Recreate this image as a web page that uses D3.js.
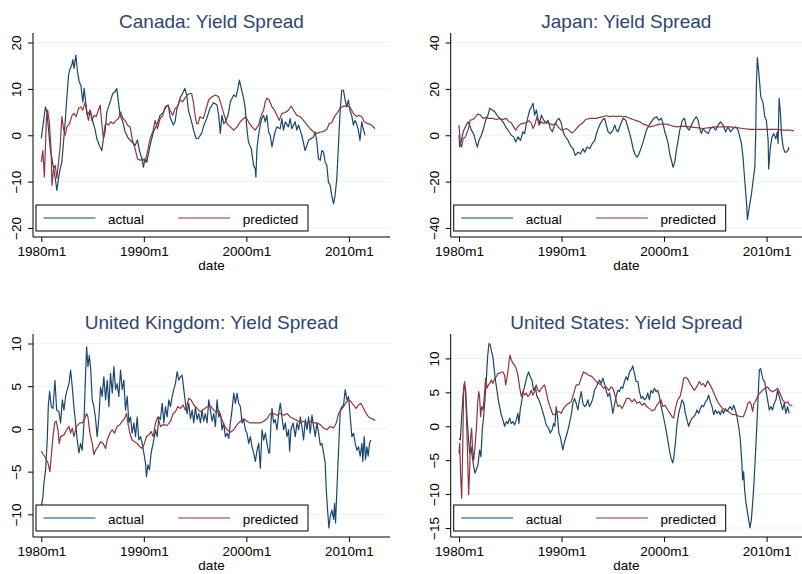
<!DOCTYPE html>
<html lang="en">
<head>
<meta charset="UTF-8">
<title>Yield Spread: actual vs predicted</title>
<script src="https://d3js.org/d3.v7.min.js"></script>
<style>
  body { margin: 0; background: #fff; }
  svg { font-family: "Liberation Sans", Arial, Helvetica, sans-serif; }
  .grid line { stroke: #eaf2f3; stroke-width: 1; }
  .axis-line { stroke: #000; stroke-width: 1; }
  .tick line { stroke: #000; }
  .tick text { font-size: 13.5px; fill: #000; }
  .title { font-size: 19px; fill: #2c4672; }
  .xlabel { font-size: 13.5px; fill: #000; }
  .legend-text { font-size: 13.5px; fill: #000; }
</style>
</head>
<body>
<svg id="chart" width="802" height="574"></svg>
<script>
// values, [fractional year, value]
const xTicks = [1980, 1990, 2000, 2010];
const seriesNames = ["actual", "predicted"];

const caActual = [[1980.0,-0.7],[1980.4,6.1],[1980.55,5.0],[1980.87,-2.9],[1981.2,-7.2],[1981.36,-9.3],[1981.52,-11.9],[1981.68,-9.3],[1981.85,-7.2],[1982.0,-5.8],[1982.17,-1.4],[1982.33,2.9],[1982.5,8.3],[1982.66,13.0],[1982.82,14.4],[1982.98,15.2],[1983.08,16.3],[1983.2,14.4],[1983.37,17.3],[1983.53,13.7],[1983.7,11.5],[1983.86,10.8],[1984.05,7.2],[1984.18,10.1],[1984.38,6.1],[1984.5,4.3],[1984.77,5.4],[1985.03,2.9],[1985.26,1.1],[1985.41,-0.7],[1985.67,-2.2],[1985.9,-3.3],[1986.06,-0.7],[1986.22,0.7],[1986.39,5.0],[1986.71,7.2],[1986.97,9.0],[1987.2,9.4],[1987.36,10.1],[1987.52,7.2],[1987.69,4.3],[1987.95,2.9],[1988.18,0.7],[1988.5,-0.7],[1988.83,-1.4],[1989.15,-2.2],[1989.38,-1.0],[1989.57,-3.3],[1989.8,-5.0],[1989.96,-6.9],[1990.12,-5.0],[1990.29,-5.8],[1990.61,-2.2],[1990.93,0.7],[1991.26,2.2],[1991.59,4.3],[1991.91,5.0],[1992.17,6.1],[1992.4,6.5],[1992.56,3.9],[1992.88,2.2],[1993.05,2.9],[1993.2,5.4],[1993.53,8.0],[1993.86,9.4],[1994.0,10.1],[1994.18,8.7],[1994.35,5.4],[1994.66,2.9],[1994.9,0.7],[1995.1,-0.7],[1995.3,-0.7],[1995.63,0.4],[1995.86,2.2],[1996.12,3.5],[1996.45,5.8],[1996.8,7.0],[1997.14,6.5],[1997.3,4.3],[1997.46,0.4],[1997.62,4.3],[1997.79,2.5],[1997.95,2.9],[1998.21,4.3],[1998.44,7.2],[1998.76,8.7],[1998.99,8.3],[1999.18,10.1],[1999.32,11.9],[1999.5,10.1],[1999.73,8.0],[1999.89,5.8],[2000.05,1.4],[2000.2,-1.4],[2000.48,-2.9],[2000.7,-6.5],[2000.86,-7.2],[2000.93,-9.0],[2001.03,-2.9],[2001.19,0.0],[2001.35,2.2],[2001.5,3.6],[2001.68,4.3],[2001.84,2.9],[2002.0,4.3],[2002.17,0.7],[2002.33,0.0],[2002.5,-2.5],[2002.65,-0.7],[2002.8,0.7],[2002.98,1.8],[2003.3,1.4],[2003.46,3.6],[2003.62,1.1],[2003.8,2.9],[2004.1,1.8],[2004.27,3.6],[2004.43,1.4],[2004.76,2.9],[2004.92,1.1],[2005.08,2.2],[2005.41,0.0],[2005.73,-3.3],[2005.9,-2.2],[2006.06,-1.1],[2006.32,-0.7],[2006.55,-0.4],[2006.71,0.7],[2006.87,-1.4],[2007.03,-5.1],[2007.2,-5.4],[2007.36,-3.3],[2007.52,-3.6],[2007.69,-5.8],[2007.85,-6.5],[2008.0,-10.1],[2008.17,-10.8],[2008.33,-13.0],[2008.5,-14.8],[2008.65,-13.0],[2008.82,-9.4],[2008.98,-2.2],[2009.14,5.0],[2009.3,9.7],[2009.47,9.7],[2009.63,7.6],[2009.79,6.1],[2009.95,7.6],[2010.1,5.4],[2010.27,4.3],[2010.44,2.2],[2010.6,3.2],[2010.75,2.5],[2010.92,1.1],[2011.08,-1.1],[2011.25,2.9],[2011.4,1.4],[2011.57,0.0]];

const caPredicted = [[1980.0,-5.8],[1980.15,-3.3],[1980.3,-9.0],[1980.5,3.6],[1980.62,5.4],[1980.78,2.9],[1980.95,-2.9],[1981.04,-10.8],[1981.2,-7.2],[1981.36,-6.5],[1981.52,-9.3],[1981.68,-5.8],[1981.85,-2.2],[1982.0,4.0],[1982.17,1.4],[1982.33,0.0],[1982.5,1.8],[1982.76,2.5],[1983.0,4.3],[1983.2,4.7],[1983.4,4.0],[1983.63,5.8],[1983.86,6.1],[1984.05,5.4],[1984.28,7.2],[1984.44,4.7],[1984.6,3.2],[1984.77,5.4],[1984.93,3.2],[1985.16,4.3],[1985.35,4.0],[1985.57,5.4],[1985.74,6.5],[1985.9,2.5],[1986.06,-0.7],[1986.22,2.2],[1986.39,2.5],[1986.55,2.2],[1986.78,2.9],[1987.04,2.5],[1987.3,3.2],[1987.52,3.6],[1987.75,5.0],[1987.95,3.6],[1988.18,3.2],[1988.4,2.2],[1988.66,1.8],[1988.92,-1.4],[1989.15,-2.9],[1989.38,-5.1],[1989.64,-5.4],[1989.9,-5.1],[1990.12,-5.8],[1990.35,-3.6],[1990.61,-0.7],[1990.87,0.7],[1991.1,3.2],[1991.33,1.4],[1991.59,3.6],[1991.85,4.3],[1992.07,6.1],[1992.3,6.5],[1992.56,5.4],[1992.82,4.3],[1993.05,5.8],[1993.27,6.1],[1993.53,7.6],[1993.79,7.2],[1994.0,8.0],[1994.25,8.7],[1994.44,9.0],[1994.66,9.0],[1994.83,7.2],[1995.0,4.3],[1995.15,2.5],[1995.3,2.5],[1995.47,4.0],[1995.8,3.6],[1996.05,5.5],[1996.32,7.6],[1996.65,8.3],[1996.97,8.7],[1997.3,8.3],[1997.46,7.2],[1997.79,4.7],[1998.1,2.5],[1998.44,1.8],[1998.76,1.1],[1999.1,1.8],[1999.4,2.9],[1999.73,3.6],[1999.95,4.0],[2000.2,2.9],[2000.54,1.8],[2000.86,1.1],[2001.19,2.2],[2001.45,4.3],[2001.68,5.4],[2001.84,7.2],[2002.0,8.0],[2002.23,7.6],[2002.5,6.1],[2002.75,5.4],[2002.98,4.3],[2003.2,3.2],[2003.46,4.7],[2003.8,4.9],[2004.1,5.4],[2004.37,6.3],[2004.6,5.4],[2004.92,4.3],[2005.25,4.0],[2005.57,3.2],[2005.9,2.3],[2006.23,1.4],[2006.55,0.7],[2006.87,0.4],[2007.2,0.7],[2007.52,0.8],[2007.85,1.3],[2008.08,2.5],[2008.33,2.7],[2008.59,4.0],[2008.82,4.7],[2009.14,5.8],[2009.47,6.3],[2009.79,6.3],[2010.1,6.1],[2010.44,4.7],[2010.75,4.0],[2010.98,4.3],[2011.25,4.0],[2011.5,2.9],[2011.83,2.5],[2012.15,2.3],[2012.55,1.4]];

const jpActual = [[1980.0,0.0],[1980.07,-5.0],[1980.23,-2.2],[1980.4,1.5],[1980.55,2.9],[1980.7,4.4],[1980.88,5.8],[1981.04,4.4],[1981.2,2.2],[1981.43,0.7],[1981.63,-2.9],[1981.79,-5.1],[1981.95,-2.2],[1982.18,0.0],[1982.4,2.9],[1982.6,6.5],[1982.83,8.7],[1983.0,11.6],[1983.25,10.9],[1983.48,10.2],[1983.7,8.7],[1983.97,7.3],[1984.3,5.8],[1984.55,3.6],[1984.88,1.5],[1985.1,0.0],[1985.33,-0.7],[1985.53,-2.9],[1985.76,-0.7],[1986.0,-2.2],[1986.24,1.5],[1986.4,0.7],[1986.57,5.1],[1986.73,8.0],[1986.9,10.9],[1987.09,12.4],[1987.22,13.8],[1987.38,8.7],[1987.55,10.9],[1987.7,7.3],[1987.87,5.1],[1988.03,8.7],[1988.26,6.5],[1988.52,5.1],[1988.68,6.5],[1988.9,2.9],[1989.1,1.5],[1989.33,4.4],[1989.56,6.5],[1989.76,7.3],[1989.98,5.1],[1990.15,1.5],[1990.3,0.0],[1990.63,-2.2],[1990.86,-4.4],[1991.12,-5.8],[1991.35,-8.7],[1991.6,-7.3],[1991.84,-8.0],[1992.1,-5.8],[1992.26,-7.3],[1992.49,-5.1],[1992.75,-5.8],[1993.0,-3.6],[1993.24,-2.2],[1993.46,1.5],[1993.72,4.4],[1993.98,6.5],[1994.2,7.3],[1994.37,4.4],[1994.54,1.5],[1994.76,0.7],[1995.02,2.2],[1995.19,4.4],[1995.35,2.2],[1995.5,1.5],[1995.74,4.4],[1996.0,7.3],[1996.26,6.5],[1996.5,2.9],[1996.65,0.7],[1996.81,-2.2],[1996.98,-5.8],[1997.14,-8.0],[1997.37,-9.5],[1997.56,-8.0],[1997.79,-5.1],[1998.0,-2.2],[1998.28,2.2],[1998.54,4.4],[1998.76,5.8],[1999.0,7.3],[1999.25,8.0],[1999.5,6.5],[1999.74,7.3],[1999.9,5.1],[2000.07,1.5],[2000.23,-0.7],[2000.4,-3.6],[2000.55,-8.0],[2000.72,-10.9],[2000.88,-13.8],[2001.04,-11.6],[2001.2,-6.5],[2001.37,-2.2],[2001.53,2.2],[2001.79,6.5],[2002.0,7.3],[2002.18,3.6],[2002.44,2.2],[2002.67,4.4],[2002.9,6.5],[2003.15,8.0],[2003.32,6.5],[2003.48,2.9],[2003.64,0.7],[2003.8,2.9],[2004.06,1.5],[2004.3,0.7],[2004.52,2.9],[2004.78,3.6],[2005.04,2.2],[2005.27,4.4],[2005.5,5.8],[2005.76,4.4],[2006.0,1.5],[2006.24,3.6],[2006.47,1.5],[2006.73,2.9],[2007.0,3.6],[2007.22,2.2],[2007.38,-0.7],[2007.55,-3.6],[2007.7,-9.5],[2007.87,-19.6],[2008.03,-28.4],[2008.13,-36.4],[2008.3,-31.3],[2008.52,-25.5],[2008.68,-19.6],[2008.85,-13.8],[2008.94,0.7],[2009.0,21.0],[2009.1,33.5],[2009.27,25.5],[2009.43,16.7],[2009.66,13.8],[2009.82,8.0],[2009.98,6.5],[2010.15,-2.2],[2010.2,-14.5],[2010.37,-5.1],[2010.53,-0.7],[2010.7,0.7],[2010.9,-1.5],[2011.05,1.5],[2011.12,-3.6],[2011.22,16.0],[2011.35,9.5],[2011.45,0.7],[2011.61,-5.1],[2011.77,-7.3],[2011.93,-7.3],[2012.1,-6.5],[2012.16,-5.1]];

const jpPredicted = [[1980.0,4.4],[1980.13,-3.6],[1980.26,-5.1],[1980.4,-1.5],[1980.62,-0.7],[1980.88,2.2],[1981.1,6.5],[1981.37,6.8],[1981.63,8.0],[1981.85,9.2],[1982.08,8.7],[1982.34,7.3],[1982.6,7.7],[1982.93,7.3],[1983.25,7.3],[1983.64,6.8],[1983.97,7.3],[1984.3,6.8],[1984.6,7.3],[1984.88,5.8],[1985.1,5.4],[1985.33,3.6],[1985.53,2.2],[1985.76,3.9],[1986.0,4.8],[1986.24,5.1],[1986.57,5.4],[1986.83,6.3],[1987.05,5.1],[1987.22,2.9],[1987.38,4.4],[1987.61,8.0],[1987.8,4.4],[1988.03,5.8],[1988.26,5.1],[1988.52,5.8],[1988.85,5.1],[1989.1,4.4],[1989.43,5.1],[1989.66,3.6],[1989.98,2.2],[1990.2,2.5],[1990.47,2.9],[1990.73,2.2],[1990.96,1.0],[1991.19,1.5],[1991.45,2.9],[1991.77,4.4],[1992.1,5.4],[1992.36,6.8],[1992.75,7.3],[1993.07,7.3],[1993.4,7.3],[1993.72,7.7],[1994.05,8.0],[1994.37,8.4],[1994.7,8.0],[1995.02,8.3],[1995.35,8.0],[1995.67,8.3],[1996.0,8.0],[1996.32,8.0],[1996.65,7.3],[1996.98,6.8],[1997.3,6.3],[1997.63,5.8],[1997.95,4.8],[1998.28,4.4],[1998.6,3.6],[1998.93,3.9],[1999.25,4.4],[1999.58,4.8],[1999.9,4.8],[2000.23,4.8],[2000.55,4.4],[2000.88,3.9],[2001.2,3.6],[2001.85,3.9],[2002.5,3.6],[2003.15,3.3],[2003.8,2.9],[2004.45,3.3],[2005.1,3.6],[2005.76,3.6],[2006.4,3.6],[2007.06,3.3],[2007.7,2.9],[2008.36,2.5],[2009.0,2.5],[2009.66,2.5],[2010.3,2.5],[2010.96,2.5],[2011.61,2.2],[2012.26,2.2],[2012.68,1.9]];

const ukActual = [[1980.0,-9.1],[1980.16,-7.9],[1980.26,-6.3],[1980.42,-4.8],[1980.58,-1.3],[1980.68,2.6],[1980.81,4.4],[1980.97,2.6],[1981.14,2.4],[1981.33,5.7],[1981.5,2.2],[1981.72,2.0],[1981.88,0.7],[1982.05,3.4],[1982.21,2.2],[1982.37,3.8],[1982.53,4.6],[1982.7,5.3],[1982.86,6.9],[1983.02,4.9],[1983.18,2.6],[1983.34,0.7],[1983.5,-1.3],[1983.67,-2.8],[1983.83,-1.7],[1983.99,-2.5],[1984.16,0.7],[1984.32,6.5],[1984.42,9.6],[1984.55,7.3],[1984.68,8.6],[1984.8,7.3],[1984.97,3.4],[1985.13,2.6],[1985.29,1.2],[1985.45,-0.9],[1985.62,1.4],[1985.78,4.9],[1985.94,3.8],[1986.1,6.1],[1986.27,3.4],[1986.43,5.7],[1986.59,2.6],[1986.75,6.5],[1986.92,4.2],[1987.08,7.3],[1987.24,4.6],[1987.4,5.3],[1987.56,3.8],[1987.73,6.9],[1987.89,4.6],[1988.05,5.7],[1988.21,2.2],[1988.38,3.8],[1988.54,0.7],[1988.7,1.4],[1988.86,-0.5],[1989.03,0.7],[1989.19,-0.9],[1989.35,1.4],[1989.51,-1.3],[1989.68,-0.9],[1989.84,-1.7],[1990.0,-2.8],[1990.16,-4.0],[1990.26,-5.6],[1990.39,-4.2],[1990.55,-4.8],[1990.71,-2.8],[1990.91,-1.7],[1991.14,-0.1],[1991.3,-0.9],[1991.46,1.4],[1991.62,1.1],[1991.79,3.0],[1991.95,0.7],[1992.11,2.6],[1992.27,1.4],[1992.44,3.4],[1992.6,2.6],[1992.76,3.8],[1992.92,4.6],[1993.08,5.3],[1993.25,6.7],[1993.41,5.7],[1993.57,6.1],[1993.73,6.3],[1993.9,4.6],[1994.06,3.0],[1994.22,1.8],[1994.38,3.0],[1994.55,1.2],[1994.71,2.2],[1994.87,0.7],[1995.03,2.6],[1995.19,1.1],[1995.36,1.8],[1995.52,0.7],[1995.68,2.2],[1995.84,0.9],[1996.0,1.8],[1996.17,0.7],[1996.33,3.4],[1996.49,2.2],[1996.66,0.9],[1996.82,1.8],[1996.98,0.3],[1997.14,3.4],[1997.3,1.4],[1997.47,1.8],[1997.63,-0.1],[1997.79,0.7],[1997.95,-0.9],[1998.12,-0.5],[1998.28,-1.1],[1998.44,0.7],[1998.6,2.2],[1998.77,4.2],[1998.93,3.0],[1999.09,4.2],[1999.25,3.0],[1999.42,2.6],[1999.58,0.7],[1999.74,1.1],[1999.9,-0.1],[2000.06,-0.5],[2000.23,-1.7],[2000.39,-0.9],[2000.55,-2.1],[2000.71,-2.8],[2000.88,-3.8],[2001.04,-2.5],[2001.2,-1.7],[2001.36,-4.6],[2001.53,-0.1],[2001.69,-1.3],[2001.85,-0.5],[2002.01,-1.7],[2002.18,-2.8],[2002.27,-2.8],[2002.4,0.7],[2002.5,2.4],[2002.66,0.7],[2002.82,1.1],[2002.99,-0.1],[2003.15,1.8],[2003.31,3.0],[2003.47,1.4],[2003.64,-0.1],[2003.8,0.7],[2003.96,-0.9],[2004.12,-0.1],[2004.22,-2.6],[2004.35,-0.1],[2004.55,0.7],[2004.77,-0.9],[2004.94,0.7],[2005.1,-0.1],[2005.26,1.4],[2005.42,0.3],[2005.58,-1.3],[2005.75,1.1],[2005.91,-0.1],[2006.07,1.4],[2006.23,-0.5],[2006.4,1.6],[2006.56,0.3],[2006.72,-0.9],[2006.88,0.7],[2007.05,-0.5],[2007.21,-1.9],[2007.37,-1.7],[2007.53,-2.8],[2007.69,-4.0],[2007.79,-7.1],[2007.92,-9.5],[2008.05,-11.6],[2008.18,-10.2],[2008.34,-9.5],[2008.51,-10.6],[2008.6,-8.7],[2008.7,-11.0],[2008.83,-7.1],[2008.99,-2.5],[2009.16,2.2],[2009.32,2.6],[2009.48,2.8],[2009.64,4.6],[2009.81,3.4],[2009.97,3.8],[2010.13,1.4],[2010.29,-0.9],[2010.45,-0.5],[2010.62,-1.7],[2010.78,-2.5],[2010.94,-2.1],[2011.1,-3.2],[2011.27,-1.7],[2011.36,-3.8],[2011.49,-0.9],[2011.62,-3.6],[2011.75,-2.1],[2011.88,-3.2],[2012.01,-1.7],[2012.14,-1.3]];

const ukPredicted = [[1980.0,-2.6],[1980.2,-3.0],[1980.42,-3.4],[1980.65,-4.0],[1980.84,-5.0],[1980.97,-3.2],[1981.14,-0.9],[1981.3,0.7],[1981.46,0.9],[1981.62,-0.1],[1981.75,-1.7],[1981.88,-0.9],[1982.21,-0.7],[1982.47,-0.1],[1982.7,0.3],[1982.86,-0.5],[1983.02,0.1],[1983.18,-0.9],[1983.44,0.3],[1983.77,0.7],[1983.99,0.7],[1984.22,1.2],[1984.42,1.8],[1984.55,1.4],[1984.74,-0.5],[1984.97,-1.7],[1985.13,-3.0],[1985.29,-2.5],[1985.52,-2.1],[1985.78,-1.5],[1986.04,-1.7],[1986.27,-2.3],[1986.43,-1.3],[1986.69,-0.5],[1986.92,-0.1],[1987.14,-0.5],[1987.4,0.3],[1987.66,0.5],[1987.89,0.9],[1988.12,1.2],[1988.31,1.8],[1988.44,0.7],[1988.64,-0.5],[1988.86,-1.3],[1989.09,-1.5],[1989.35,-1.7],[1989.61,-2.1],[1989.84,-2.3],[1990.0,-1.9],[1990.26,-0.9],[1990.49,-0.7],[1990.71,-0.3],[1990.91,-0.9],[1991.14,0.7],[1991.36,1.4],[1991.62,0.3],[1991.95,0.5],[1992.27,0.4],[1992.6,0.9],[1992.86,1.8],[1993.08,2.0],[1993.31,2.6],[1993.57,2.4],[1993.83,2.8],[1994.06,2.2],[1994.22,2.8],[1994.38,3.6],[1994.61,3.4],[1994.87,2.8],[1995.19,2.4],[1995.52,2.0],[1995.84,2.3],[1996.17,2.6],[1996.49,2.7],[1996.82,2.2],[1997.08,1.9],[1997.3,2.2],[1997.53,1.4],[1997.79,0.5],[1998.12,-0.1],[1998.44,-0.4],[1998.77,-0.1],[1999.09,0.5],[1999.42,0.9],[1999.74,1.2],[2000.06,0.9],[2000.39,0.7],[2000.71,0.7],[2001.04,0.7],[2001.36,0.7],[2001.69,0.9],[2002.01,1.2],[2002.34,1.8],[2002.66,1.8],[2002.99,1.6],[2003.31,1.8],[2003.64,1.6],[2003.96,1.8],[2004.29,1.4],[2004.61,1.2],[2004.94,1.0],[2005.26,0.7],[2005.58,0.9],[2005.91,0.7],[2006.23,0.9],[2006.56,0.7],[2006.88,0.7],[2007.21,0.5],[2007.53,0.1],[2007.86,-0.1],[2008.18,0.3],[2008.51,0.1],[2008.77,0.7],[2008.99,1.8],[2009.22,2.2],[2009.48,2.6],[2009.74,3.1],[2009.97,3.4],[2010.19,3.2],[2010.45,2.8],[2010.71,2.4],[2010.94,2.8],[2011.17,3.0],[2011.43,2.4],[2011.69,1.8],[2011.92,1.4],[2012.24,1.2],[2012.57,1.0]];

const usActual = [[1980.0,-1.8],[1980.13,-2.0],[1980.26,1.4],[1980.39,4.4],[1980.52,6.3],[1980.65,5.3],[1980.78,1.4],[1980.91,-1.5],[1981.04,-4.0],[1981.17,-3.0],[1981.3,-4.5],[1981.43,-5.9],[1981.56,-6.9],[1981.69,-6.4],[1981.85,-5.7],[1982.01,-3.5],[1982.14,-4.5],[1982.27,-0.5],[1982.4,1.4],[1982.53,3.9],[1982.66,6.8],[1982.79,10.2],[1982.92,12.2],[1983.05,12.0],[1983.18,11.0],[1983.31,10.2],[1983.44,8.3],[1983.57,6.6],[1983.7,5.3],[1983.83,3.9],[1983.96,2.9],[1984.12,1.7],[1984.29,0.9],[1984.45,0.0],[1984.61,0.7],[1984.77,0.4],[1984.94,1.2],[1985.1,0.4],[1985.26,0.7],[1985.42,0.2],[1985.58,0.9],[1985.75,1.9],[1985.84,0.4],[1985.97,2.4],[1986.14,3.9],[1986.3,5.3],[1986.46,6.3],[1986.62,7.3],[1986.79,8.0],[1986.95,7.3],[1987.11,6.8],[1987.27,5.3],[1987.44,5.8],[1987.6,4.4],[1987.79,3.9],[1988.02,2.9],[1988.25,1.7],[1988.51,0.2],[1988.73,-0.3],[1988.9,-1.0],[1989.09,-0.5],[1989.22,0.4],[1989.35,0.0],[1989.48,2.9],[1989.61,1.4],[1989.74,-1.0],[1989.87,-1.5],[1990.0,-2.5],[1990.13,-3.5],[1990.26,-2.5],[1990.39,-1.8],[1990.55,-1.0],[1990.71,0.0],[1990.84,0.9],[1990.97,1.9],[1991.1,3.4],[1991.27,4.1],[1991.43,3.4],[1991.59,2.4],[1991.75,3.9],[1991.92,5.1],[1992.08,3.4],[1992.24,2.9],[1992.4,3.1],[1992.57,3.9],[1992.73,2.9],[1992.89,3.4],[1993.05,4.1],[1993.21,5.3],[1993.38,5.8],[1993.54,6.3],[1993.7,6.8],[1993.86,6.3],[1994.03,7.1],[1994.19,6.3],[1994.35,5.3],[1994.51,4.4],[1994.68,4.9],[1994.84,3.6],[1995.0,1.9],[1995.16,3.1],[1995.32,4.4],[1995.49,5.3],[1995.65,5.1],[1995.81,5.8],[1995.97,5.6],[1996.14,6.6],[1996.3,7.3],[1996.46,6.8],[1996.62,8.0],[1996.79,8.3],[1996.95,8.9],[1997.11,7.8],[1997.27,6.6],[1997.44,6.6],[1997.6,5.1],[1997.76,4.1],[1997.92,4.4],[1998.08,3.9],[1998.25,4.1],[1998.41,4.9],[1998.57,3.9],[1998.73,5.3],[1998.9,4.9],[1999.06,5.6],[1999.22,5.1],[1999.38,5.3],[1999.55,4.4],[1999.71,2.9],[1999.87,1.9],[2000.03,0.7],[2000.19,-0.5],[2000.36,-2.0],[2000.52,-3.5],[2000.68,-4.7],[2000.84,-5.4],[2000.94,-4.7],[2001.1,-2.5],[2001.27,0.4],[2001.43,1.9],[2001.59,2.9],[2001.75,3.9],[2001.92,3.4],[2002.08,1.9],[2002.24,0.9],[2002.4,0.0],[2002.56,0.7],[2002.73,1.2],[2002.89,1.4],[2003.05,1.7],[2003.21,2.4],[2003.38,1.9],[2003.54,2.6],[2003.7,3.1],[2003.86,2.9],[2004.03,3.6],[2004.19,3.9],[2004.35,4.6],[2004.51,3.6],[2004.68,2.9],[2004.84,1.7],[2005.0,2.4],[2005.16,1.9],[2005.32,2.2],[2005.49,1.7],[2005.65,2.4],[2005.81,1.9],[2005.97,2.6],[2006.14,2.2],[2006.3,2.6],[2006.46,2.9],[2006.62,2.4],[2006.79,3.1],[2006.95,2.4],[2007.11,1.4],[2007.27,0.0],[2007.44,-2.0],[2007.57,-5.0],[2007.66,-7.9],[2007.76,-6.7],[2007.86,-9.4],[2007.99,-11.3],[2008.15,-12.8],[2008.25,-13.8],[2008.38,-15.0],[2008.51,-13.8],[2008.64,-11.3],[2008.77,-8.4],[2008.9,-4.5],[2009.03,-0.5],[2009.16,3.9],[2009.29,8.3],[2009.42,8.5],[2009.55,7.5],[2009.68,6.8],[2009.81,6.6],[2009.94,5.3],[2010.1,3.9],[2010.26,2.4],[2010.42,2.9],[2010.58,2.4],[2010.75,3.4],[2010.91,3.9],[2011.07,5.3],[2011.23,4.4],[2011.4,3.4],[2011.56,2.4],[2011.72,3.4],[2011.88,1.9],[2012.05,2.9],[2012.21,1.9]];

const usPredicted = [[1980.0,-4.0],[1980.07,-2.5],[1980.16,-7.4],[1980.26,-10.6],[1980.36,-3.5],[1980.45,5.3],[1980.55,6.6],[1980.65,4.4],[1980.75,0.4],[1980.84,-4.5],[1980.94,-10.1],[1981.04,-6.4],[1981.14,-1.5],[1981.23,-0.3],[1981.33,-3.5],[1981.43,-5.0],[1981.56,-3.0],[1981.69,-0.5],[1981.82,3.4],[1981.92,5.1],[1982.01,4.4],[1982.11,1.4],[1982.21,2.9],[1982.34,2.4],[1982.47,4.4],[1982.6,7.1],[1982.73,5.6],[1982.86,6.1],[1982.99,6.3],[1983.15,6.8],[1983.31,6.3],[1983.48,7.1],[1983.64,7.3],[1983.8,7.8],[1983.96,7.8],[1984.12,8.0],[1984.29,8.0],[1984.45,7.5],[1984.55,6.1],[1984.68,7.1],[1984.84,9.0],[1984.97,10.5],[1985.1,9.8],[1985.26,9.3],[1985.42,9.0],[1985.58,8.5],[1985.75,7.5],[1985.91,5.8],[1986.07,4.4],[1986.23,5.1],[1986.39,4.6],[1986.56,4.9],[1986.72,4.4],[1986.88,4.6],[1987.05,5.3],[1987.21,4.6],[1987.37,5.1],[1987.53,6.1],[1987.69,5.3],[1987.86,5.1],[1988.02,5.6],[1988.18,5.8],[1988.34,6.1],[1988.51,5.1],[1988.67,3.9],[1988.83,3.1],[1988.99,2.4],[1989.16,1.7],[1989.32,1.7],[1989.48,1.9],[1989.74,2.2],[1989.97,1.9],[1990.19,2.6],[1990.45,3.1],[1990.71,3.4],[1990.94,3.6],[1991.1,4.4],[1991.27,5.3],[1991.43,6.1],[1991.69,6.1],[1991.92,7.1],[1992.14,8.0],[1992.4,7.8],[1992.66,7.5],[1992.89,7.4],[1993.12,7.1],[1993.38,6.6],[1993.64,6.3],[1993.86,6.1],[1994.09,5.6],[1994.35,5.8],[1994.61,5.3],[1994.84,5.8],[1995.0,5.6],[1995.16,4.9],[1995.32,3.9],[1995.49,2.9],[1995.71,3.1],[1995.91,2.6],[1996.14,3.4],[1996.36,4.1],[1996.62,4.1],[1996.88,3.6],[1997.11,4.0],[1997.34,3.4],[1997.6,3.6],[1997.86,3.1],[1998.08,3.4],[1998.31,2.9],[1998.57,2.6],[1998.83,2.3],[1999.06,2.4],[1999.29,3.1],[1999.55,3.6],[1999.71,3.9],[1999.87,2.9],[2000.1,3.1],[2000.36,2.4],[2000.58,1.9],[2000.78,1.4],[2000.94,1.2],[2001.1,2.6],[2001.33,3.9],[2001.56,4.4],[2001.75,5.6],[2001.92,7.1],[2002.14,7.2],[2002.34,6.9],[2002.53,6.3],[2002.73,5.8],[2002.95,5.3],[2003.18,5.8],[2003.44,6.6],[2003.64,6.1],[2003.83,6.3],[2004.03,5.8],[2004.25,6.7],[2004.48,6.1],[2004.74,5.3],[2005.0,4.4],[2005.23,3.6],[2005.45,3.1],[2005.71,2.6],[2005.97,2.4],[2006.23,2.2],[2006.49,1.9],[2006.75,1.7],[2007.01,1.7],[2007.27,1.5],[2007.5,1.4],[2007.73,1.4],[2007.99,2.4],[2008.18,3.4],[2008.38,3.6],[2008.51,3.1],[2008.64,2.2],[2008.77,3.4],[2008.9,3.6],[2009.12,4.4],[2009.35,4.9],[2009.61,5.3],[2009.87,5.6],[2010.1,5.8],[2010.32,5.3],[2010.58,5.1],[2010.84,5.3],[2011.07,5.6],[2011.3,4.9],[2011.56,3.9],[2011.82,3.4],[2012.05,3.6],[2012.27,3.1],[2012.53,3.1]];

const titles = ["Canada: Yield Spread", "Japan: Yield Spread", "United Kingdom: Yield Spread", "United States: Yield Spread"];
const yTicks = [[-20, -10, 0, 10, 20], [-40, -20, 0, 20, 40], [-10, -5, 0, 5, 10], [-15, -10, -5, 0, 5, 10]];
const actualSeries = [caActual, jpActual, ukActual, usActual];
const predictedSeries = [caPredicted, jpPredicted, ukPredicted, usPredicted];

// plot-region boxes of the four panels (pixels)
const boxes = [
    {left: 33,    right: 390, top: 33,  bottom: 237},
    {left: 450.7, right: 802, top: 33,  bottom: 237},
    {left: 33,    right: 390, top: 334, bottom: 537},
    {left: 450.7, right: 802, top: 334, bottom: 537}
];
const colors = {actual: "#1a476f", predicted: "#90353b"};

const svg = d3.select("#chart");

titles.forEach((title, i) => {
    const b = boxes[i];
    const actual = actualSeries[i];
    const predicted = predictedSeries[i];
    const g = svg.append("g");

    const x = d3.scaleLinear()
        .domain([1980, 2010])
        .range([b.left + 8.3, b.left + 8.3 + 307.6]);

    const yExt = d3.extent([...yTicks[i], ...actual.map(d => d[1]), ...predicted.map(d => d[1])]);
    const y = d3.scaleLinear()
        .domain(yExt)
        .range([b.bottom - 9, b.top + 9.5]);

    // grid
    g.append("g").attr("class", "grid")
        .selectAll("line")
        .data(yTicks[i])
        .join("line")
        .attr("x1", b.left).attr("x2", b.right)
        .attr("y1", d => y(d)).attr("y2", d => y(d));

    // lines
    const line = d3.line().x(d => x(d[0])).y(d => y(d[1]));
    g.append("path").datum(actual)
        .attr("fill", "none").attr("stroke", colors.actual)
        .attr("stroke-width", 1.2).attr("stroke-linejoin", "round")
        .attr("d", line);
    g.append("path").datum(predicted)
        .attr("fill", "none").attr("stroke", colors.predicted)
        .attr("stroke-width", 1.2).attr("stroke-linejoin", "round")
        .attr("d", line);

    // y axis
    const yAxis = g.append("g")
        .attr("transform", `translate(${b.left},0)`)
        .call(d3.axisLeft(y).tickValues(yTicks[i]).tickSize(5).tickSizeOuter(0));
    yAxis.select(".domain").remove();
    yAxis.selectAll(".tick text")
        .attr("transform", "rotate(-90)")
        .attr("x", 0).attr("y", -12).attr("dy", 0)
        .attr("text-anchor", "middle");
    g.append("line").attr("class", "axis-line")
        .attr("x1", b.left).attr("x2", b.left)
        .attr("y1", b.top).attr("y2", b.bottom);

    // x axis
    const xAxis = g.append("g")
        .attr("transform", `translate(0,${b.bottom})`)
        .call(d3.axisBottom(x).tickValues(xTicks).tickFormat(d => d + "m1").tickSize(5).tickSizeOuter(0));
    xAxis.select(".domain").remove();
    xAxis.selectAll(".tick text").attr("y", 9);
    g.append("line").attr("class", "axis-line")
        .attr("x1", b.left).attr("x2", b.right)
        .attr("y1", b.bottom).attr("y2", b.bottom);

    const cx = (b.left + b.right) / 2;
    g.append("text").attr("class", "xlabel")
        .attr("x", cx).attr("y", b.bottom + 33)
        .attr("text-anchor", "middle").text("date");

    g.append("text").attr("class", "title")
        .attr("x", cx).attr("y", b.top - 5.5)
        .attr("text-anchor", "middle").text(title);

    // legend
    const lg = g.append("g").attr("transform", `translate(${b.left + 3},${b.bottom - 32})`);
    lg.append("rect")
        .attr("width", 272).attr("height", 26)
        .attr("fill", "#fff").attr("stroke", "#000").attr("stroke-width", 1);
    seriesNames.forEach((name, k) => {
        const ox = 7.5 + k * 134.7;
        lg.append("line")
            .attr("x1", ox).attr("x2", ox + 52)
            .attr("y1", 13).attr("y2", 13)
            .attr("stroke", colors[name]).attr("stroke-width", 1.2);
        lg.append("text").attr("class", "legend-text")
            .attr("x", ox + 64.5).attr("y", 18.5)
            .text(name);
    });
});
</script>
</body>
</html>
